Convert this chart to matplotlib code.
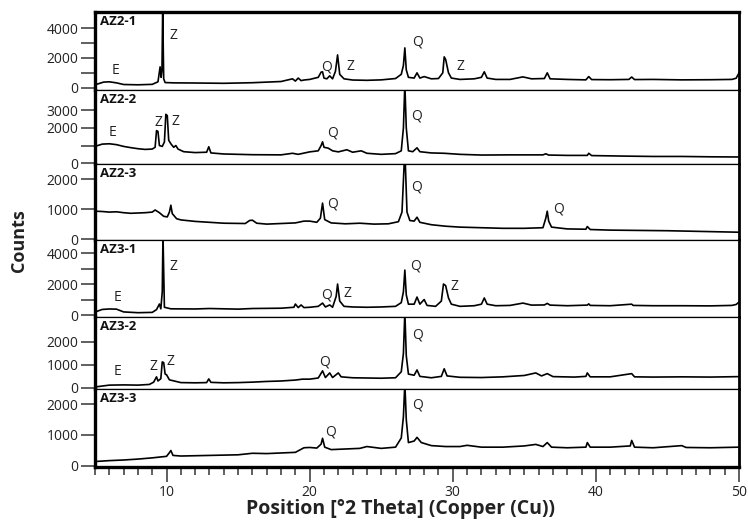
import numpy as np
import matplotlib
matplotlib.use("Agg")
import matplotlib.pyplot as plt
from matplotlib.ticker import MultipleLocator

plt.rcParams["font.family"] = ["Open Sans", "DejaVu Sans"]

# --- data (2theta, counts) ---
samples = ["AZ2-1", "AZ2-2", "AZ2-3", "AZ3-1", "AZ3-2", "AZ3-3"]

az2_1 = [(5.0, 200), (5.6, 380), (6.0, 400), (6.5, 330), (7.0, 220), (8.0, 200), (9.0, 230),
         (9.4, 400), (9.55, 1400), (9.62, 700), (9.68, 1200), (9.73, 5300), (9.8, 600),
         (9.9, 350), (10.5, 330), (12, 320), (14, 300), (16, 340), (18, 420), (18.8, 600), (19.0, 450),
         (19.2, 650), (19.4, 480), (19.6, 520), (20.0, 560), (20.6, 700), (20.8, 1050), (20.9, 1070),
         (21.0, 650), (21.2, 600), (21.4, 800), (21.6, 600), (21.8, 1100), (21.95, 2200), (22.1, 900),
         (22.4, 600), (23, 520), (24, 500), (25, 530), (26.0, 620), (26.4, 900), (26.55, 1500),
         (26.65, 2670), (26.75, 1200), (26.9, 700), (27.3, 650), (27.5, 1000), (27.7, 650), (28.0, 750),
         (28.5, 600), (29.0, 620), (29.3, 1000), (29.4, 2070), (29.5, 1900), (29.7, 1000), (29.9, 650),
         (30.5, 560), (31.5, 600), (32.0, 700), (32.2, 1070), (32.4, 650), (33, 560), (34, 560),
         (34.9, 730), (35.5, 600), (36.4, 620), (36.6, 1000), (36.8, 600), (38, 560), (39.3, 530),
         (39.5, 750), (39.7, 550), (41, 540), (42.3, 560), (42.5, 720), (42.7, 550), (44, 560),
         (46, 530), (48, 540), (49.5, 560), (49.8, 640), (50.0, 1000)]

az2_2 = [(5.0, 950), (5.5, 1080), (6.0, 1100), (6.5, 1050), (7.0, 950), (7.5, 880), (8.0, 820),
         (8.5, 780), (9.0, 800), (9.2, 900), (9.3, 1850), (9.4, 1800), (9.5, 1000), (9.7, 950),
         (9.85, 1200), (9.95, 2770), (10.05, 2700), (10.15, 1300), (10.3, 1100), (10.5, 900),
         (10.65, 1000), (10.8, 800), (11.2, 650), (12.0, 600), (12.8, 620), (12.95, 930), (13.1, 580),
         (14, 520), (16, 480), (18, 470), (18.8, 560), (19.2, 500), (20.0, 640), (20.6, 700),
         (20.8, 1000), (20.9, 1210), (21.0, 900), (21.3, 850), (21.6, 700), (22.0, 640), (22.6, 760),
         (23.0, 620), (23.6, 700), (24.0, 560), (25, 500), (26.0, 540), (26.4, 700), (26.55, 2000),
         (26.65, 4500), (26.75, 2000), (26.9, 700), (27.2, 650), (27.5, 870), (27.7, 650), (28.5, 580),
         (29.4, 560), (30.5, 500), (32, 460), (34, 470), (36.3, 470), (36.5, 530), (36.7, 460),
         (38, 440), (39.4, 440), (39.5, 560), (39.7, 430), (42, 400), (44, 380), (46, 380), (48, 360),
         (50, 350)]

az2_3 = [(5.0, 930), (5.5, 920), (6.0, 900), (6.5, 910), (7.0, 880), (7.5, 860), (8.0, 870),
         (8.5, 880), (9.0, 900), (9.2, 970), (9.5, 880), (9.8, 760), (10.05, 740), (10.2, 900),
         (10.3, 1130), (10.4, 850), (10.7, 680), (11.0, 640), (12, 590), (13, 560), (14, 530),
         (15.5, 520), (15.8, 620), (16.0, 630), (16.3, 530), (17, 500), (18, 520), (19.0, 540),
         (19.6, 600), (20.0, 600), (20.5, 560), (20.75, 700), (20.9, 1200), (21.05, 650), (21.5, 540),
         (22.5, 510), (23.5, 530), (24.5, 500), (25.5, 510), (26.2, 580), (26.45, 900), (26.65, 3000),
         (26.8, 900), (27.0, 620), (27.3, 600), (27.5, 730), (27.7, 560), (28.5, 480),
         (29.5, 430), (30.5, 400), (32, 380), (33.5, 360), (35, 360), (36.3, 380), (36.5, 700),
         (36.6, 930), (36.7, 600), (36.9, 400), (38, 340), (39.3, 330), (39.4, 420), (39.6, 320),
         (41, 300), (43, 290), (45, 280), (47, 260), (49, 240), (50, 230)]

az3_1 = [(5.0, 190), (5.5, 360), (6.0, 390), (6.5, 380), (7.0, 200), (8.0, 150), (9.0, 170),
         (9.3, 350), (9.5, 710), (9.6, 400), (9.7, 1500), (9.75, 5200), (9.85, 500),
         (10.3, 400), (12, 390), (13, 420), (14, 400), (15, 380), (16, 420), (17, 430), (18, 440),
         (18.9, 500), (19.0, 710), (19.2, 480), (19.4, 650), (19.6, 480), (20.0, 500), (20.6, 560),
         (20.9, 770), (21.1, 520), (21.4, 650), (21.6, 500), (21.85, 1200), (21.95, 2000), (22.1, 900),
         (22.4, 560), (23, 520), (24, 500), (25, 520), (26.0, 560), (26.4, 800), (26.55, 1500),
         (26.65, 2900), (26.75, 1300), (26.9, 700), (27.3, 700), (27.5, 1160), (27.7, 700), (28.0, 1000),
         (28.2, 620), (28.8, 560), (29.2, 900), (29.35, 2000), (29.5, 1900), (29.7, 1100), (29.9, 700),
         (30.5, 560), (31.5, 600), (32.0, 700), (32.2, 1100), (32.4, 700), (33, 600), (34, 620),
         (34.9, 770), (35.5, 640), (36.4, 650), (36.6, 750), (36.8, 640), (38, 600), (39.4, 640),
         (39.5, 720), (39.6, 620), (41, 600), (42.5, 700), (42.6, 620), (44, 600), (46, 600),
         (48, 590), (49.5, 620), (49.8, 680), (50, 840)]

az3_2 = [(5.0, 40), (5.5, 80), (6.0, 120), (7.0, 130), (8.0, 120), (8.8, 150), (9.1, 250),
         (9.3, 480), (9.4, 300), (9.6, 400), (9.7, 1130), (9.8, 1100), (9.9, 600), (10.0, 570),
         (10.2, 350), (11, 230), (12, 220), (12.8, 230), (12.95, 390), (13.1, 240), (14, 220),
         (15, 230), (16, 250), (17, 280), (18, 300), (19.0, 340), (19.5, 380), (20.0, 380), (20.6, 430),
         (20.9, 740), (21.1, 450), (21.4, 650), (21.6, 450), (22.0, 650), (22.2, 480), (23, 440),
         (24, 430), (25, 420), (26.0, 440), (26.4, 700), (26.55, 1500), (26.65, 3300), (26.75, 1400),
         (26.9, 600), (27.3, 550), (27.5, 780), (27.7, 500), (28.5, 440), (29.2, 500), (29.4, 830),
         (29.6, 520), (30.5, 460), (32, 450), (33.5, 480), (35, 540), (35.8, 650), (36.2, 520),
         (36.6, 620), (37, 490), (38.5, 470), (39.3, 500), (39.4, 650), (39.6, 480), (41, 480),
         (42.5, 620), (42.7, 480), (44, 470), (46, 480), (48, 470), (50, 490)]

az3_3 = [(5.0, 130), (6, 160), (7, 180), (8, 210), (9, 250), (10.0, 300), (10.2, 420), (10.3, 490),
         (10.45, 330), (11, 310), (12, 320), (13, 330), (14, 340), (15, 350), (16, 400), (17, 390),
         (18, 410), (19, 430), (19.6, 580), (20.0, 590), (20.5, 570), (20.8, 700), (20.9, 890),
         (21.05, 600), (21.5, 520), (22.5, 540), (23.5, 560), (24, 620), (25, 560), (26.0, 600),
         (26.4, 900), (26.55, 1600), (26.65, 2700), (26.75, 1500), (26.9, 750), (27.3, 800),
         (27.5, 920), (27.8, 750), (28.5, 650), (29.5, 620), (30.5, 620), (31, 660), (32, 600),
         (33.5, 600), (35, 640), (35.8, 690), (36.3, 620), (36.6, 750), (36.9, 600), (38, 580),
         (39.3, 600), (39.4, 750), (39.6, 600), (41, 600), (42.4, 640), (42.5, 820), (42.7, 600),
         (44, 580), (46, 650), (46.3, 590), (48, 580), (50, 600)]

traces = [az2_1, az2_2, az2_3, az3_1, az3_2, az3_3]

# phase labels (letter, 2theta, counts)
marks_az2_1 = [("E", 6.45, 1130), ("Z", 10.45, 3530), ("Q", 21.2, 1400), ("Z", 22.85, 1400),
               ("Q", 27.55, 3070), ("Z", 30.5, 1400)]
marks_az2_2 = [("E", 6.25, 1730), ("Z", 9.4, 2300), ("Z", 10.65, 2370), ("Q", 21.6, 1730),
               ("Q", 27.45, 2660)]
marks_az2_3 = [("Q", 21.6, 1170), ("Q", 27.45, 1730), ("Q", 37.4, 1000)]
marks_az3_1 = [("E", 6.6, 1160), ("Z", 10.5, 3160), ("Q", 21.2, 1290), ("Z", 22.65, 1420),
               ("Q", 27.4, 3160), ("Z", 30.1, 1870)]
marks_az3_2 = [("E", 6.6, 700), ("Z", 9.1, 920), ("Z", 10.3, 1130), ("Q", 21.05, 1130),
               ("Q", 27.55, 2300)]
marks_az3_3 = [("Q", 21.45, 1080), ("Q", 27.55, 1970)]
marks = [marks_az2_1, marks_az2_2, marks_az2_3, marks_az3_1, marks_az3_2, marks_az3_3]

ylims = [(-150, 5070), (-50, 4150), (-30, 2500), (-130, 4840), (-50, 3080), (-50, 2500)]
yticks_major = [[0, 2000, 4000], [0, 2000, 3000], [0, 1000, 2000], [0, 2000, 4000],
                [0, 1000, 2000], [0, 1000, 2000]]
yticks_minor = [[1000, 3000], [1000], [], [1000, 3000], [], []]
heights = [78, 74, 76, 77, 72, 78]

fig = plt.figure(figsize=(7.48, 5.23), dpi=100)
gs = fig.add_gridspec(6, 1, height_ratios=heights, hspace=0,
                      left=0.127, right=0.988, top=0.977, bottom=0.107)
axes = []
for i in range(6):
    ax = fig.add_subplot(gs[i], sharex=axes[0] if axes else None)
    axes.append(ax)
    x, y = np.array(traces[i], dtype=float).T
    ax.plot(x, y, color="black", lw=1.2)
    ax.set_xlim(5, 50)
    ax.set_ylim(*ylims[i])
    ax.set_yticks(yticks_major[i])
    ax.set_yticks(yticks_minor[i], minor=True)
    ax.tick_params(axis="y", which="both", direction="out", length=10, width=1.2,
                   color="#444444", pad=2, labelsize=10, labelcolor="#222222")
    ax.text(0.008, 0.96, samples[i], transform=ax.transAxes, ha="left", va="top",
            fontsize=9.5, fontweight="bold", color="#111111")
    for lab, mx, my in marks[i]:
        ax.text(mx, my, lab, ha="center", va="center", fontsize=10, color="#222222")
    ax.spines["left"].set_linewidth(2.4)
    ax.spines["right"].set_linewidth(2.0)
    ax.spines["top"].set_linewidth(2.4 if i == 0 else 0.9)
    ax.spines["bottom"].set_linewidth(2.4 if i == 5 else 0.9)
    if i < 5:
        ax.tick_params(axis="x", which="both", bottom=False, labelbottom=False)

axb = axes[-1]
axb.xaxis.set_major_locator(MultipleLocator(10))
axb.xaxis.set_minor_locator(MultipleLocator(1))
axb.tick_params(axis="x", which="major", direction="out", length=11, width=1.2,
                color="#444444", labelsize=10, labelcolor="#222222", pad=2)
axb.tick_params(axis="x", which="minor", direction="out", length=6, width=1.2, color="#444444")
fig.text(0.535, 0.026, "Position [°2 Theta] (Copper (Cu))", ha="center", va="center",
         fontsize=14, fontweight="bold", color="#222222")
fig.text(0.025, 0.54, "Counts", rotation=90, ha="center", va="center",
         fontsize=13, fontweight="bold", color="#222222")

fig.savefig("out.png", dpi=100)
